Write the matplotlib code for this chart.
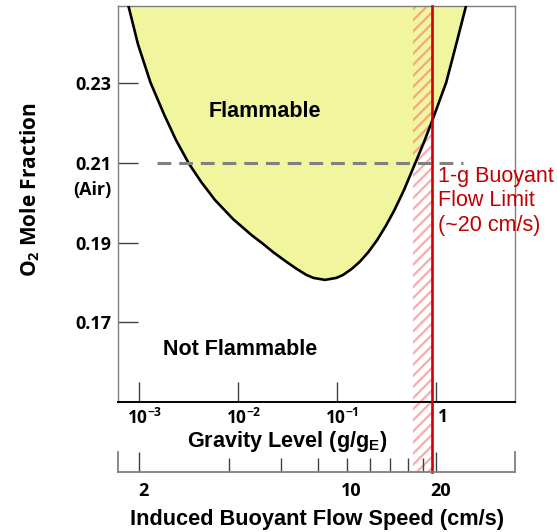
import numpy as np
import matplotlib
matplotlib.use("Agg")
import matplotlib.pyplot as plt
from matplotlib.transforms import ScaledTranslation

BF = 'Open Sans'
plt.rcParams['mathtext.fontset'] = 'custom'
plt.rcParams['mathtext.bf'] = 'Open Sans:bold'
plt.rcParams['mathtext.rm'] = 'Open Sans:bold'
plt.rcParams['mathtext.sf'] = 'Liberation Sans:bold'
plt.rcParams['hatch.linewidth'] = 1.6

# ---------------- data ----------------
boundary_g = [7.74e-4, 9.70e-4, 1.297e-3, 1.793e-3, 2.349e-3, 3.177e-3, 4.228e-3,
              5.815e-3, 8.84e-3, 1.356e-2, 1.784e-2, 2.257e-2, 3.075e-2, 3.890e-2,
              4.874e-2, 5.748e-2, 7.51e-2, 9.79e-2, 1.145e-1, 1.398e-1, 1.680e-1,
              2.066e-1, 2.530e-1, 3.090e-1, 3.782e-1, 4.718e-1, 6.092e-1, 7.444e-1,
              8.984e-1, 1.065, 1.259, 1.589, 2.004]
boundary_o2 = [0.24958, 0.23980, 0.23020, 0.22200, 0.21574, 0.20980, 0.20521,
               0.20070, 0.19594, 0.19193, 0.18967, 0.18759, 0.18516, 0.18341,
               0.18190, 0.18115, 0.18065, 0.18115, 0.18190, 0.18341, 0.18516,
               0.18767, 0.19068, 0.19419, 0.19820, 0.20321, 0.20980, 0.21499,
               0.22025, 0.22526, 0.23020, 0.23980, 0.24958]

air_o2 = 0.21
air_line_g = [1.51e-3, 1.85]
limit_g = 0.90
band_g = [0.586, 0.90]

g_ticks = [1e-3, 1e-2, 1e-1, 1]
g_tick_labels = [r'$\mathbf{10^{-3}}$', r'$\mathbf{10^{-2}}$', r'$\mathbf{10^{-1}}$', r'$\mathbf{1}$']
o2_ticks = [0.17, 0.19, 0.21, 0.23]
o2_tick_labels = ['0.17', '0.19', '0.21', '0.23']

speed_ticks = [2, 4, 6, 8, 10, 12, 14, 16, 18, 20]
speed_labels = ['2', '', '', '', '10', '', '', '', '', '20']
speed_tall = [2, 20]

g_lim = (10 ** -3.215, 10 ** 0.795)
o2_lim = (0.15, 0.2494)

# ---------------- figure ----------------
W, H = 557, 532
fig = plt.figure(figsize=(W / 100, H / 100), dpi=100)

def fx(px):
    return px / W

def fy(py):
    return (H - py) / H

ax_l, ax_r, ax_t, ax_b = 118, 515, 6, 402
ax = fig.add_axes([fx(ax_l), fy(ax_b), fx(ax_r) - fx(ax_l), fy(ax_t) - fy(ax_b)])
ax.set_xscale('log')
ax.set_xlim(*g_lim)
ax.set_ylim(*o2_lim)

gray = '#7f7f7f'
for s in ['left', 'top', 'right']:
    ax.spines[s].set_color(gray)
    ax.spines[s].set_linewidth(1.0)
ax.spines['bottom'].set_color('black')
ax.spines['bottom'].set_linewidth(1.4)

# flammable region
ax.fill(boundary_g, boundary_o2, color='#F1F59E', zorder=1, lw=0)
ax.plot(boundary_g, boundary_o2, color='black', lw=1.9, zorder=3,
        solid_joinstyle='round')

# buoyant limit band and line (extend down to speed axis)
ext = (ax_b - 472) / (ax_b - ax_t)
ax.axvspan(band_g[0], band_g[1], ymin=ext, ymax=1, clip_on=False,
           facecolor='none', edgecolor=(0.97, 0.45, 0.45, 0.6), hatch='///',
           lw=0, zorder=2)
ax.axvline(limit_g, ymin=ext, ymax=1, clip_on=False, color='#D40000', lw=1.9, zorder=5)

# air line
ax.plot(air_line_g, [air_o2, air_o2], color='#808080', lw=2.2,
        dashes=(4.5, 2.6), zorder=4)

# ticks
ax.set_xticks(g_ticks)
ax.set_xticklabels(g_tick_labels)
ax.xaxis.set_minor_locator(matplotlib.ticker.NullLocator())
ax.tick_params(axis='x', direction='in', length=14.4, width=1.0, color='#404040',
               pad=4, labelsize=12.5)
off = ScaledTranslation(5 / 100, 0, fig.dpi_scale_trans)
for lab in ax.get_xticklabels():
    lab.set_transform(lab.get_transform() + off)

ax.set_yticks(o2_ticks)
ax.set_yticklabels(o2_tick_labels, family=BF, fontweight='bold')
ax.tick_params(axis='y', direction='in', length=14.4, width=1.0, color='#404040',
               pad=5, labelsize=13)
ax.annotate('(Air)', xy=(0, air_o2), xycoords=('axes fraction', 'data'),
            xytext=(-7, -27), textcoords='offset pixels', ha='right', va='center',
            family=BF, fontweight='bold', fontsize=13, annotation_clip=False)

# labels
ax.set_xlabel(r'Gravity Level (g/g$_\mathsf{E}$)', family='Liberation Sans',
              fontweight='bold', fontsize=15.6)
ax.xaxis.set_label_coords((287 - ax_l) / (ax_r - ax_l), (ax_b - 446.5) / (ax_b - ax_t))
ax.xaxis.label.set_va('baseline')

ax.set_ylabel(r'O$_\mathbf{2}$ Mole Fraction', family=BF, fontweight='bold',
              fontsize=15)
ax.yaxis.set_label_coords((30 - ax_l) / (ax_r - ax_l), (ax_b - 190) / (ax_b - ax_t))
ax.yaxis.label.set_va('center')

# region texts
ax.text(10 ** ((265 - 436.3) / 99), 0.19 + (243.7 - 118.3) / 3990, 'Flammable',
        family='Liberation Sans', fontweight='bold', fontsize=15.5,
        ha='center', va='baseline', zorder=6)
ax.text(10 ** ((239.7 - 436.3) / 99), 0.19 + (243.7 - 356) / 3990, 'Not Flammable',
        family='Liberation Sans', fontweight='bold', fontsize=15.5,
        ha='center', va='baseline', zorder=6)
ax.annotate('1-g Buoyant\nFlow Limit\n(~20 cm/s)', xy=(limit_g, 0.19 + (243.7 - 231.7) / 3990),
            xytext=(6, 0), textcoords='offset pixels', ha='left', va='baseline',
            family='Liberation Sans', fontsize=15.5, color='#C00000',
            annotation_clip=False, zorder=6)

# ---------------- speed axis ----------------
sp_b, sp_t = 472, 452
ax2 = fig.add_axes([fx(ax_l), fy(sp_b), fx(ax_r) - fx(ax_l), fy(sp_t) - fy(sp_b)])
ax2.set_xscale('log')
ax2.set_xlim(20 * g_lim[0] ** (1 / 3), 20 * g_lim[1] ** (1 / 3))
ax2.set_ylim(0, 1)
ax2.patch.set_visible(False)
ax2.spines['top'].set_visible(False)
for s in ['left', 'right', 'bottom']:
    ax2.spines[s].set_color(gray)
    ax2.spines[s].set_linewidth(1.3)
ax2.set_yticks([])
ax2.set_xticks(speed_ticks)
ax2.set_xticklabels(speed_labels, family=BF, fontweight='bold')
ax2.xaxis.set_minor_locator(matplotlib.ticker.NullLocator())
ax2.tick_params(axis='x', direction='in', length=10, width=1.0, color='#404040',
                pad=7, labelsize=13)
for v, t in zip(speed_ticks, ax2.xaxis.get_major_ticks()):
    if v in speed_tall:
        t.tick1line.set_markersize(14.4)
off2 = ScaledTranslation(4 / 100, 0, fig.dpi_scale_trans)
for lab in ax2.get_xticklabels():
    lab.set_transform(lab.get_transform() + off2)
ax2.set_xlabel('Induced Buoyant Flow Speed (cm/s)', family='Liberation Sans',
               fontweight='bold', fontsize=15.7)
ax2.xaxis.set_label_coords((317.5 - ax_l) / (ax_r - ax_l), (sp_b - 525) / (sp_b - sp_t))
ax2.xaxis.label.set_va('baseline')

fig.savefig('out.png', dpi=100)
